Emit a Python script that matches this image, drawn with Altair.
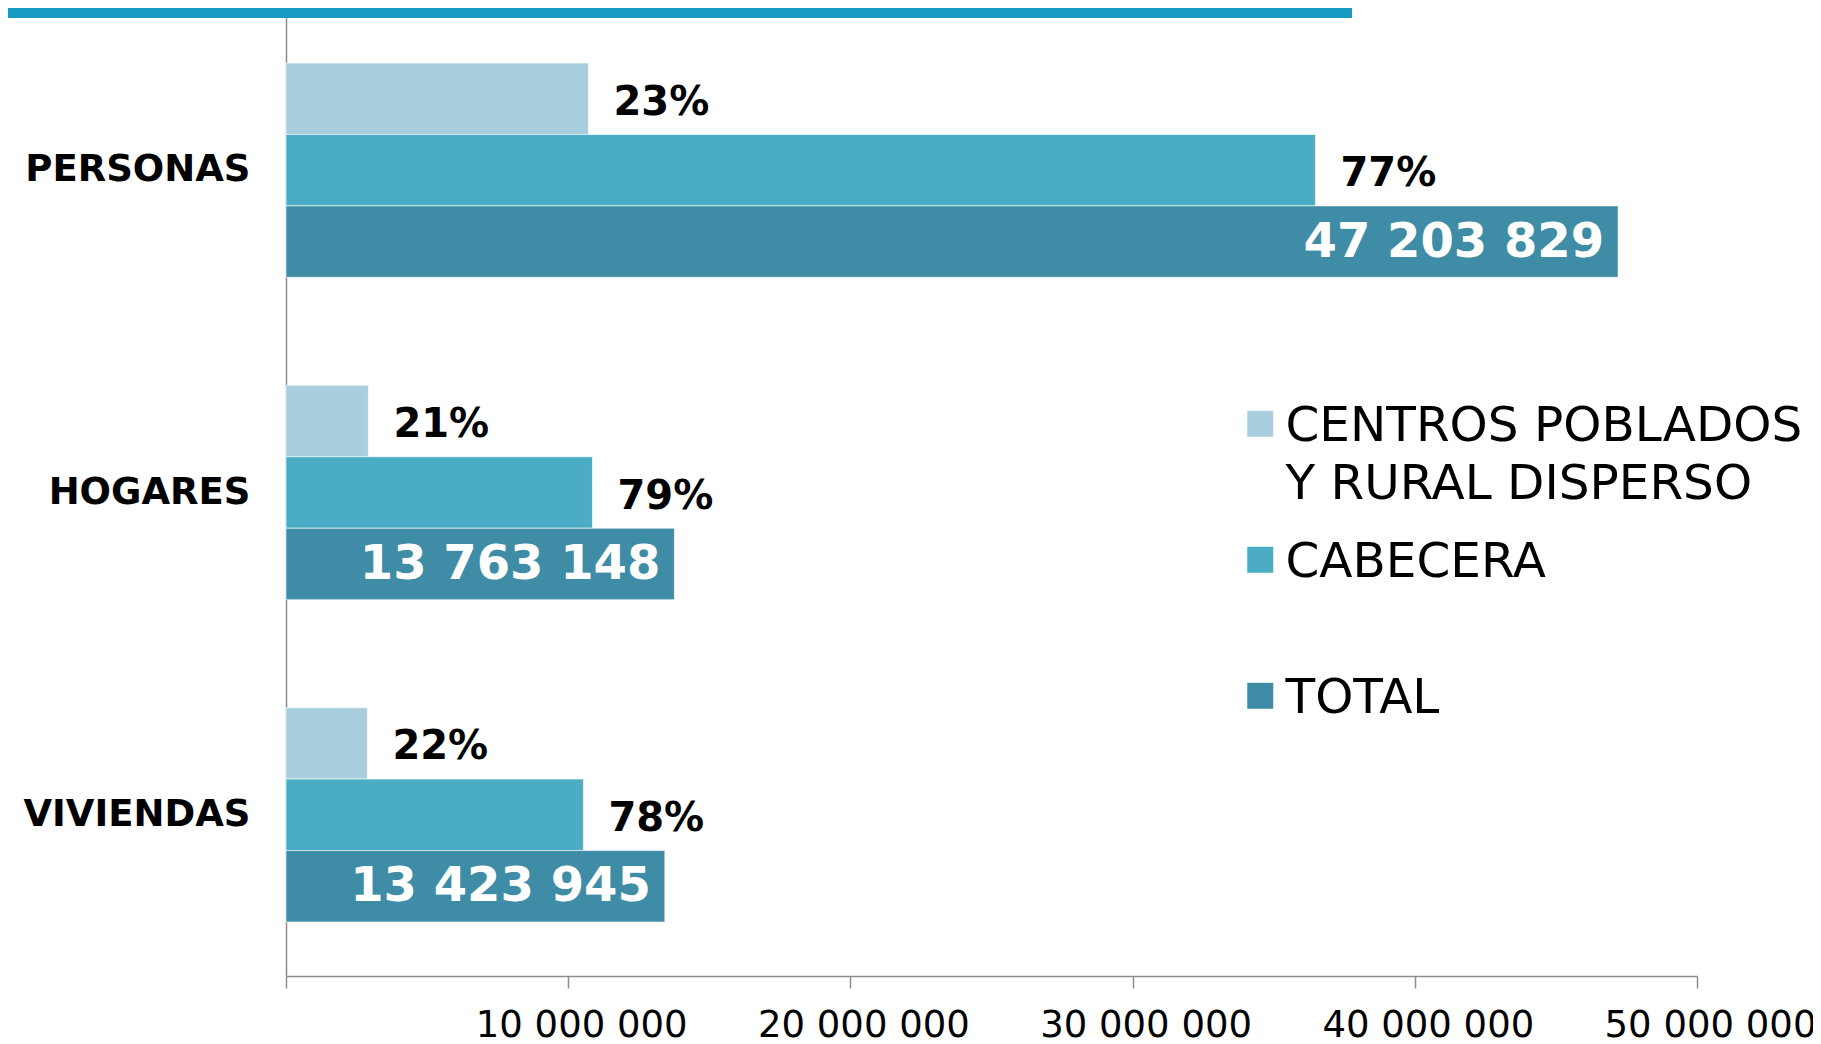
import altair as alt
import pandas as pd

categories = ["PERSONAS", "HOGARES", "VIVIENDAS"]
series = ["CENTROS POBLADOS Y RURAL DISPERSO", "CABECERA", "TOTAL"]
centros = [10_720_000, 2_920_000, 2_885_000]
cabecera = [36_480_000, 10_860_000, 10_540_000]
total = [47_203_829, 13_763_148, 13_423_945]
pct_centros = [23, 21, 22]
pct_cabecera = [77, 79, 78]
colors = ["#A9CFDE", "#4BACC6", "#3E8CA5"]
x_ticks = [0, 10_000_000, 20_000_000, 30_000_000, 40_000_000, 50_000_000]

rows = []
for i, c in enumerate(categories):
    rows.append(dict(category=c, series=series[0], value=centros[i],
                     label=f"{pct_centros[i]}%", kind="pct"))
    rows.append(dict(category=c, series=series[1], value=cabecera[i],
                     label=f"{pct_cabecera[i]}%", kind="pct"))
    rows.append(dict(category=c, series=series[2], value=total[i],
                     label=f"{total[i]:,}".replace(",", " "), kind="total"))
df = pd.DataFrame(rows)

FONT = "DejaVu Sans"
AXIS_GRAY = "#8c8c8c"

base = alt.Chart(df).encode(
    x=alt.X(
        "value:Q",
        scale=alt.Scale(domain=[0, 50_000_000], nice=False, zero=True),
        axis=alt.Axis(
            title=None, grid=False, values=x_ticks,
            labelExpr="datum.value == 0 ? '' : join(split(format(datum.value, ',.0f'), ','), ' ')",
            labelFont=FONT, labelFontSize=37, labelColor="black",
            labelOffset=13, labelPadding=19, labelFlush=False, labelOverlap=False,
            labelLimit=500,
            domainColor=AXIS_GRAY, domainWidth=1.5,
            tickColor=AXIS_GRAY, tickWidth=1.5, tickSize=12,
        ),
    ),
    y=alt.Y(
        "category:N", sort=categories,
        scale=alt.Scale(paddingInner=0.335, paddingOuter=0.1675),
        axis=alt.Axis(
            title=None, ticks=False, labelFont=FONT, labelFontSize=37,
            labelFontWeight="bold", labelColor="black", labelPadding=36,
            domainColor=AXIS_GRAY, domainWidth=1.5, labelLimit=400,
        ),
    ),
    yOffset=alt.YOffset(
        "series:N", sort=series,
        scale=alt.Scale(domain=series, paddingInner=0, paddingOuter=0),
    ),
)

bars = base.mark_bar(stroke="white", strokeWidth=1, strokeOpacity=0.6).encode(
    color=alt.Color(
        "series:N",
        scale=alt.Scale(domain=series, range=colors),
        legend=alt.Legend(
            title=None, orient="none", legendX=950, legendY=370,
            direction="vertical", columns=1,
            symbolType="M-1,0.58H1V2.58H-1Z", symbolSize=676,
            symbolStrokeWidth=0,
            labelFont=FONT, labelFontSize=48.5, labelColor="black",
            labelBaseline="top", labelOffset=1, labelLimit=1000,
            labelExpr="split(replace(datum.label, 'POBLADOS ', 'POBLADOS|'), '|')",
            gridAlign="all", rowPadding=6, padding=0,
        ),
    )
)

pct_text = base.transform_filter("datum.kind == 'pct'").mark_text(
    align="left", baseline="middle", dx=25, dy=4,
    font=FONT, fontSize=40, fontWeight="bold", color="black",
).encode(text="label:N")

total_text = base.transform_filter("datum.kind == 'total'").mark_text(
    align="right", baseline="middle", dx=-14, dy=1,
    font=FONT, fontSize=48, fontWeight="bold", color="white",
).encode(text="label:N")

band = alt.Chart(pd.DataFrame({"band": [0]})).mark_rect(color="#179AC3").encode(
    x=alt.value(-278), x2=alt.value(1066), y=alt.value(-1), y2=alt.value(9)
)

chart = alt.layer(bars, pct_text, total_text, band).properties(
    width=1411,
    height=967,
    padding={"left": 278, "top": 1, "right": 116, "bottom": 66},
    autosize=alt.AutoSizeParams(type="none"),
).configure(
    style={"guide-label": {"lineHeight": 58}}
).configure_view(
    stroke="transparent"
)

chart.save("out.html", embed_options={"renderer": "svg", "actions": False})
